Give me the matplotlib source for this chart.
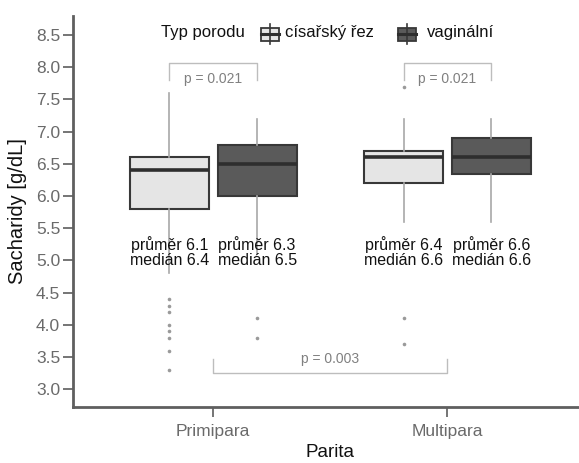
import matplotlib
matplotlib.use("Agg")
import matplotlib.pyplot as plt
from matplotlib.patches import Rectangle
from matplotlib.lines import Line2D

plt.rcParams["font.family"] = ["Liberation Sans", "DejaVu Sans"]

# ---- data ----
parity = ["Primipara", "Multipara"]
birth_types = ["císařský řez", "vaginální"]
fills = ["#E5E5E5", "#5A5A5A"]

# per parity: [cesarean, vaginal]
q1 = [[5.8, 6.0], [6.2, 6.35]]
med = [[6.4, 6.5], [6.6, 6.6]]
q3 = [[6.6, 6.8], [6.7, 6.9]]
whis_lo = [[4.8, 5.1], [5.6, 5.6]]
whis_hi = [[7.6, 7.2], [7.2, 7.2]]
fliers = [
    [[4.4, 4.3, 4.2, 4.0, 3.9, 3.8, 3.6, 3.3], [4.1, 3.8]],
    [[7.7, 4.1, 3.7], []],
]
means = [[6.1, 6.3], [6.4, 6.6]]
medians_lbl = [[6.4, 6.5], [6.6, 6.6]]

p_within = ["p = 0.021", "p = 0.021"]
p_between = "p = 0.003"

yticks = [3.0, 3.5, 4.0, 4.5, 5.0, 5.5, 6.0, 6.5, 7.0, 7.5, 8.0, 8.5]

# ---- figure ----
fig = plt.figure(figsize=(5.79, 4.63), dpi=100)
ax = fig.add_axes([0.1256, 0.1216, 0.890, 0.8438])

dodge = 0.1875
width = 0.338
for i in range(len(parity)):
    for j in range(len(birth_types)):
        pos = i + 1 + (j - 0.5) * 2 * dodge
        stats = [{
            "med": med[i][j], "q1": q1[i][j], "q3": q3[i][j],
            "whislo": whis_lo[i][j], "whishi": whis_hi[i][j],
            "fliers": fliers[i][j],
        }]
        ax.bxp(stats, positions=[pos], widths=width, patch_artist=True,
               showcaps=False,
               boxprops=dict(facecolor=fills[j], edgecolor="#383838", linewidth=1.5),
               medianprops=dict(color="#2E2E2E", linewidth=2.6),
               whiskerprops=dict(color="#A8A8A8", linewidth=1.2),
               flierprops=dict(marker="o", markersize=2.6, markerfacecolor="#9A9A9A",
                               markeredgecolor="none"))
        ax.text(pos, 5.13, f"průměr {means[i][j]}\nmedián {medians_lbl[i][j]}",
                ha="center", va="center", fontsize=11.5, color="#111111",
                linespacing=0.95)

    # bracket within each parity group
    x0, x1 = i + 1 - dodge, i + 1 + dodge
    ax.plot([x0, x0, x1, x1], [7.80, 8.07, 8.07, 7.80], color="#BDBDBD", lw=1.0)
    ax.text(i + 1, 7.81, p_within[i], ha="center", va="center", fontsize=10,
            color="#808080")

# bracket between parity groups
ax.plot([1, 1, 2, 2], [3.47, 3.25, 3.25, 3.47], color="#BDBDBD", lw=1.0)
ax.text(1.5, 3.47, p_between, ha="center", va="center", fontsize=10, color="#808080")

ax.set_xlim(0.4, 2.6)
ax.set_ylim(2.731, 8.794)
ax.set_xticks([1, 2])
ax.set_xticklabels(parity)
ax.set_yticks(yticks)
ax.set_yticklabels([f"{v:.1f}" for v in yticks])
for side in ["top", "right"]:
    ax.spines[side].set_visible(False)
for side in ["left", "bottom"]:
    ax.spines[side].set_color("#5F5F5F")
    ax.spines[side].set_linewidth(2.0)
ax.tick_params(axis="both", colors="#6A6A6A", length=7.5, width=1.3, pad=1.5)
ax.tick_params(axis="x", labelsize=12.5, pad=5)
ax.tick_params(axis="y", labelsize=12.5)
ax.set_ylabel("Sacharidy [g/dL]", fontsize=14.5, color="#111111")
ax.yaxis.set_label_coords(-0.088, 0.5)
ax.set_xlabel("Parita", fontsize=13.5, color="#111111", labelpad=3.5)

# ---- legend drawn by hand at the top ----
H = 463.0
W = 579.0
def fx(px):
    return px / W
def fy(py):
    return 1 - py / H

fig.text(fx(161), fy(33), "Typ porodu", ha="left", va="center", fontsize=12,
         color="#111111")
key_x = [260, 397]
lbl_x = [285, 427]
for k in range(len(birth_types)):
    kx = key_x[k]
    fig.add_artist(Line2D([fx(kx + 10), fx(kx + 10)], [fy(24), fy(44)],
                          color="#383838", lw=1.2))
    fig.add_artist(Rectangle((fx(kx + 1), fy(41)), fx(18), 13.5 / H,
                             facecolor=fills[k], edgecolor="#383838", lw=1.3))
    fig.add_artist(Line2D([fx(kx + 1), fx(kx + 19)], [fy(34), fy(34)],
                          color="#2E2E2E", lw=2.2))
    fig.text(fx(lbl_x[k]), fy(33), birth_types[k], ha="left", va="center",
             fontsize=12, color="#111111")

fig.savefig("out.png", dpi=100)
